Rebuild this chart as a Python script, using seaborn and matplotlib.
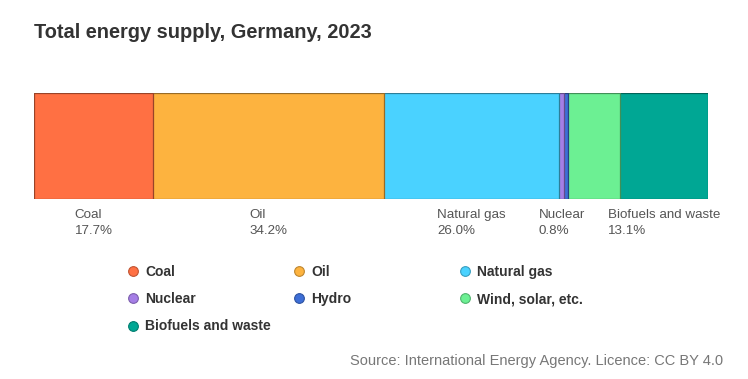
import matplotlib
matplotlib.use("Agg")
import matplotlib.pyplot as plt
from matplotlib.lines import Line2D
from matplotlib.colors import to_rgb
import matplotlib.transforms as mtransforms
import seaborn as sns
import pandas as pd
import numpy as np

# ---- data ----
title = "Total energy supply, Germany, 2023"
fuels = ["Coal", "Oil", "Natural gas", "Nuclear", "Hydro", "Wind, solar, etc.", "Biofuels and waste"]
shares = [17.7, 34.2, 26.0, 0.8, 0.5, 7.7, 13.1]
colors = ["#FF7043", "#FDB33F", "#4AD2FF", "#A57EE6", "#3D6ED6", "#6CF093", "#00A794"]
labelled = ["Coal", "Oil", "Natural gas", "Nuclear", "Biofuels and waste"]
source = "Source: International Energy Agency. Licence: CC BY 4.0"

sns.set_theme(style="white")
plt.rcParams["font.family"] = ["Liberation Sans", "DejaVu Sans"]

W, H = 748, 379
fig = plt.figure(figsize=(W / 100, H / 100), dpi=100)
fig.patch.set_facecolor("white")

def fx(px):
    return px / W

def fy(py):
    return 1 - py / H

ax = fig.add_axes([fx(34), fy(199), fx(708) - fx(34), fy(93) - fy(199)])

def darker(c, f=0.6):
    r, g, b = to_rgb(c)
    return (r * f, g * f, b * f)

df = pd.DataFrame({"fuel": fuels, "share": shares, "color": colors})
df["end"] = df["share"].cumsum()
df["start"] = df["end"] - df["share"]
df["row"] = "Germany"

# stacked bar via overlay of cumulative bars (largest first)
for i in range(len(df) - 1, -1, -1):
    r = df.iloc[i]
    sns.barplot(x=[r["end"]], y=[r["row"]], orient="h", color=r["color"],
                saturation=1, width=0.8, edgecolor=darker(r["color"]),
                linewidth=0.9, ax=ax)

ax.set_xlim(0, df["end"].iloc[-1])
ax.set_ylim(0.4, -0.4)
ax.set_axis_off()

# segment labels below the bar
trans = mtransforms.blended_transform_factory(ax.transData, fig.transFigure)
for _, r in df.iterrows():
    if r["fuel"] in labelled:
        mid = (r["start"] + r["end"]) / 2
        ax.text(mid, fy(209), f"{r['fuel']}\n{r['share']:.1f}%", transform=trans,
                ha="center", va="top", multialignment="left",
                fontsize=9.6, color="#555555", linespacing=1.45)

# title
fig.text(fx(34), fy(32), title, ha="left", va="center", fontsize=14.4,
         fontweight="bold", color="#333333")

# legend in three columns (row-wise order)
col_x = [127, 293, 459]
ncol = 3
for c in range(ncol):
    idx = list(range(c, len(fuels), ncol))
    handles = [Line2D([0], [0], marker="o", linestyle="none", markersize=7,
                      markerfacecolor=colors[i], markeredgecolor=darker(colors[i], 0.75),
                      markeredgewidth=0.8) for i in idx]
    leg = fig.legend(handles, [fuels[i] for i in idx], loc="upper left",
                     bbox_to_anchor=(fx(col_x[c]), fy(265)), frameon=False,
                     handlelength=0.9, handletextpad=0.4, borderpad=0,
                     borderaxespad=0, labelspacing=0.95,
                     prop={"size": 10, "weight": "bold"})
    for t in leg.get_texts():
        t.set_color("#333333")

# source
fig.text(fx(723), fy(361), source, ha="right", va="center", fontsize=10.5,
         color="#777777")

fig.savefig("out.png", dpi=100, facecolor="white")
